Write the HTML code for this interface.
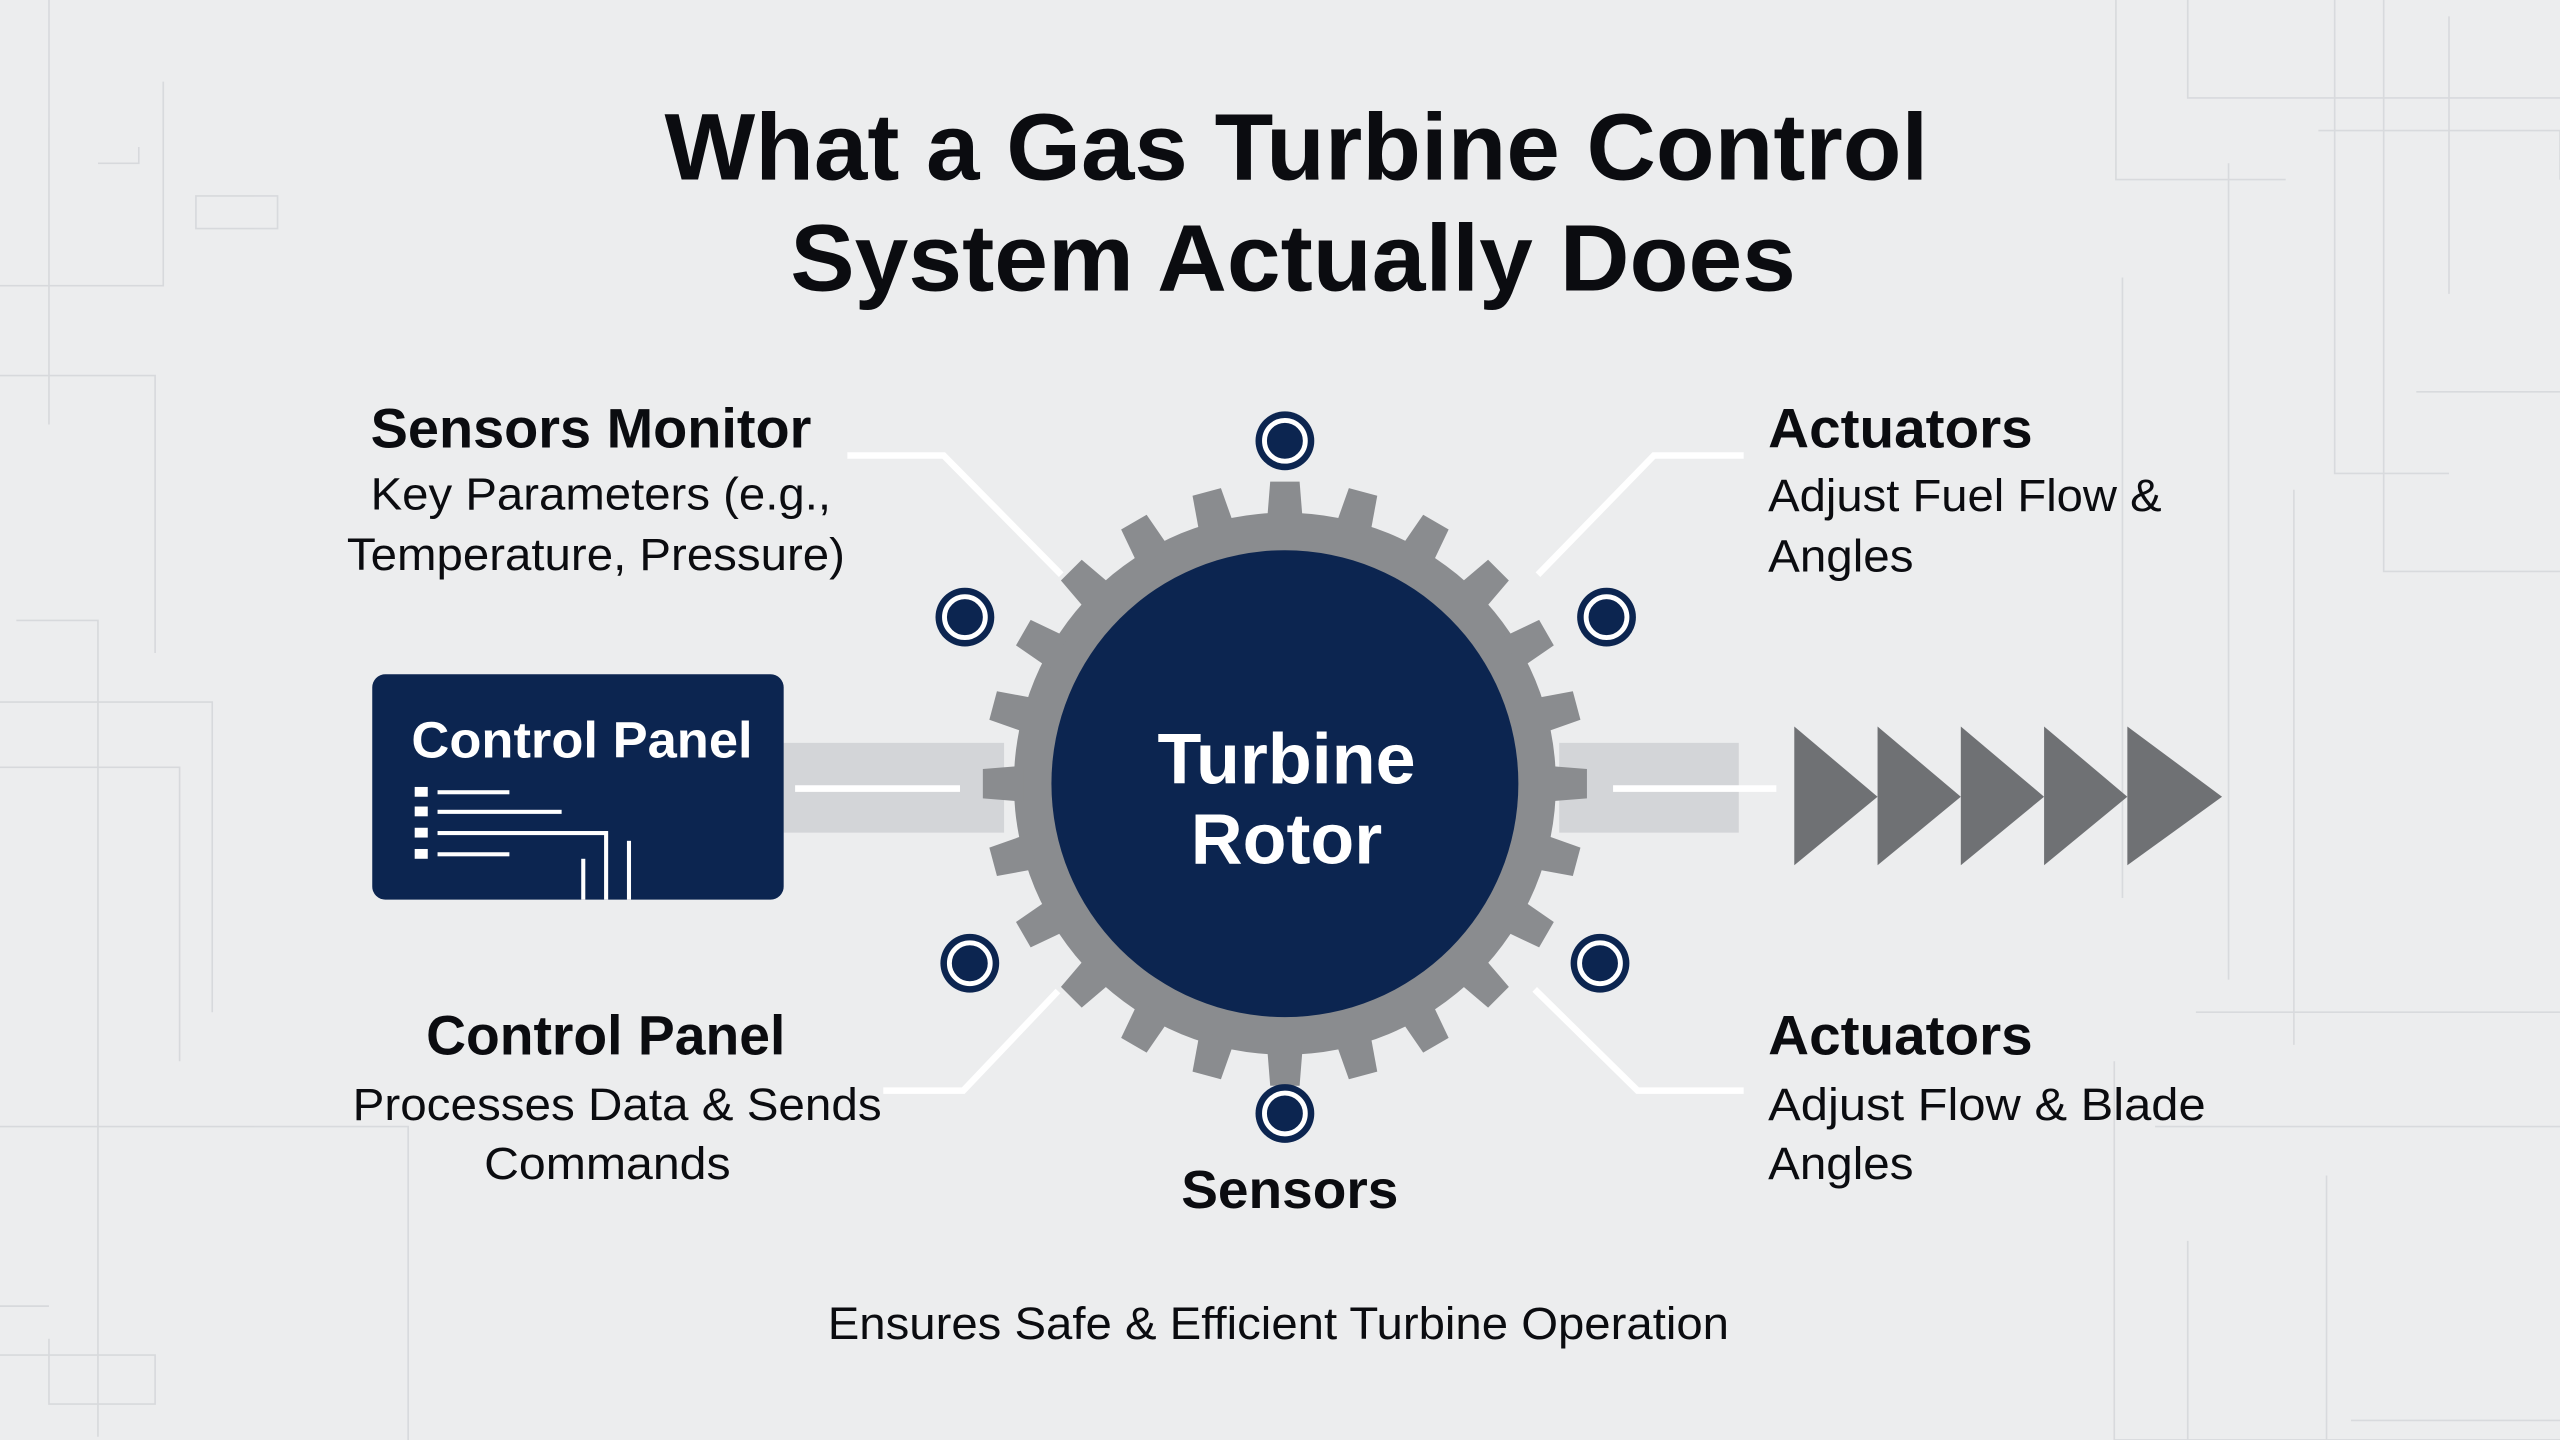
<!DOCTYPE html>
<html><head><meta charset="utf-8"><style>
html,body{margin:0;padding:0;width:2560px;height:1440px;overflow:hidden;background:#ecedee}
svg{display:block}
text{font-family:"Liberation Sans",Arial,sans-serif}
</style></head><body>
<svg width="2560" height="1440" viewBox="0 0 1568 882" xmlns="http://www.w3.org/2000/svg">
<rect width="1568" height="882" fill="#ecedee"/>
<g stroke="#d3d5d8" stroke-width="1" fill="none" opacity="0.8">
<path d="M0 175H100V50M30 0V260M0 230H95V400M0 430H130V620M0 470H110V650M10 380H60V880M0 690H250V882M120 120H170V140H120Z"/>
<path d="M0 800H30M0 830H95V860H30V820M60 100H85V90"/>
<path d="M1296 0V110H1400M1340 0V60H1568M1430 0V290H1500M1460 0V350H1568M1420 80H1568V110M1480 240H1568M1405 300V640M1300 170V550M1365 100V600M1295 650V882H1568M1345 620H1568M1320 690H1568M1340 760V882M1425 720V882M1440 870H1568M1500 10V180"/>
</g>
<!-- title -->
<text x="794" y="110" font-size="58" font-weight="bold" fill="#0b0c10" text-anchor="middle" textLength="774" lengthAdjust="spacingAndGlyphs">What a Gas Turbine Control</text>
<text x="792" y="178" font-size="58" font-weight="bold" fill="#0b0c10" text-anchor="middle" textLength="616" lengthAdjust="spacingAndGlyphs">System Actually Does</text>
<!-- shafts -->
<rect x="480" y="455" width="135" height="55" fill="#d3d5d8"/>
<rect x="955" y="455" width="110" height="55" fill="#d3d5d8"/>
<!-- gear -->
<g transform="translate(787,480)" fill="#8a8c8f">
<circle r="166"/>
<g id="t"><path d="M-11,-160 L-9,-185 L9,-185 L11,-160Z"/></g>
<use href="#t" transform="rotate(15)"/><use href="#t" transform="rotate(30)"/><use href="#t" transform="rotate(45)"/>
<use href="#t" transform="rotate(60)"/><use href="#t" transform="rotate(75)"/><use href="#t" transform="rotate(90)"/>
<use href="#t" transform="rotate(105)"/><use href="#t" transform="rotate(120)"/><use href="#t" transform="rotate(135)"/>
<use href="#t" transform="rotate(150)"/><use href="#t" transform="rotate(165)"/><use href="#t" transform="rotate(180)"/>
<use href="#t" transform="rotate(195)"/><use href="#t" transform="rotate(210)"/><use href="#t" transform="rotate(225)"/>
<use href="#t" transform="rotate(240)"/><use href="#t" transform="rotate(255)"/><use href="#t" transform="rotate(270)"/>
<use href="#t" transform="rotate(285)"/><use href="#t" transform="rotate(300)"/><use href="#t" transform="rotate(315)"/>
<use href="#t" transform="rotate(330)"/><use href="#t" transform="rotate(345)"/>
<circle r="143" fill="#0c2550"/>
</g>
<text x="788" y="480" font-size="44" font-weight="bold" fill="#fff" text-anchor="middle">Turbine</text>
<text x="788" y="529" font-size="44" font-weight="bold" fill="#fff" text-anchor="middle">Rotor</text>
<!-- white lines -->
<g stroke="#fff" stroke-width="4" fill="none">
<path d="M487 483H588M988 483H1088"/>
<path d="M519 279H578L650 352M1068 279H1013L942 352M541 668H590L648 607M1068 668H1003L940 606"/>
</g>
<!-- small circles -->
<g fill="#0c2550">
<g transform="translate(787,270)"><circle r="18"/><circle r="12.5" fill="none" stroke="#fff" stroke-width="3"/></g>
<g transform="translate(591,378)"><circle r="18"/><circle r="12.5" fill="none" stroke="#fff" stroke-width="3"/></g>
<g transform="translate(984,378)"><circle r="18"/><circle r="12.5" fill="none" stroke="#fff" stroke-width="3"/></g>
<g transform="translate(594,590)"><circle r="18"/><circle r="12.5" fill="none" stroke="#fff" stroke-width="3"/></g>
<g transform="translate(980,590)"><circle r="18"/><circle r="12.5" fill="none" stroke="#fff" stroke-width="3"/></g>
<g transform="translate(787,682)"><circle r="18"/><circle r="12.5" fill="none" stroke="#fff" stroke-width="3"/></g>
</g>
<!-- control panel box -->
<rect x="228" y="413" width="252" height="138" rx="8" fill="#0c2550"/>
<text x="252" y="464" font-size="31" font-weight="bold" fill="#fff" textLength="209" lengthAdjust="spacingAndGlyphs">Control Panel</text>
<g fill="#fff">
<rect x="254" y="482" width="8" height="6"/><rect x="254" y="494" width="8" height="6"/><rect x="254" y="507" width="8" height="6"/><rect x="254" y="520" width="8" height="6"/>
<rect x="268" y="484" width="44" height="2.5"/><rect x="268" y="496" width="76" height="2.5"/><rect x="268" y="509" width="104" height="2.5"/><rect x="268" y="522" width="44" height="2.5"/>
<rect x="370" y="509" width="2.5" height="42"/><rect x="356" y="526" width="2.5" height="25"/><rect x="384" y="515" width="2.5" height="36"/>
</g>
<!-- arrows -->
<g fill="#6f7174">
<path d="M1099 445L1150 488L1099 530Z"/><path d="M1150 445L1201 488L1150 530Z"/><path d="M1201 445L1252 488L1201 530Z"/><path d="M1252 445L1303 488L1252 530Z"/><path d="M1303 445L1361 488L1303 530Z"/>
</g>
<!-- labels -->
<g fill="#0b0c10">
<text x="362" y="274" font-size="34" font-weight="bold" text-anchor="middle" textLength="270" lengthAdjust="spacingAndGlyphs">Sensors Monitor</text>
<text x="368" y="312" font-size="28" text-anchor="middle" textLength="282" lengthAdjust="spacingAndGlyphs">Key Parameters (e.g.,</text>
<text x="365" y="349" font-size="28" text-anchor="middle" textLength="305" lengthAdjust="spacingAndGlyphs">Temperature, Pressure)</text>
<text x="1083" y="274" font-size="34" font-weight="bold" textLength="162" lengthAdjust="spacingAndGlyphs">Actuators</text>
<text x="1083" y="313" font-size="28" textLength="241" lengthAdjust="spacingAndGlyphs">Adjust Fuel Flow &amp;</text>
<text x="1083" y="350" font-size="28" textLength="89" lengthAdjust="spacingAndGlyphs">Angles</text>
<text x="371" y="646" font-size="34" font-weight="bold" text-anchor="middle" textLength="220" lengthAdjust="spacingAndGlyphs">Control Panel</text>
<text x="378" y="686" font-size="28" text-anchor="middle" textLength="324" lengthAdjust="spacingAndGlyphs">Processes Data &amp; Sends</text>
<text x="372" y="722" font-size="28" text-anchor="middle" textLength="151" lengthAdjust="spacingAndGlyphs">Commands</text>
<text x="1083" y="646" font-size="34" font-weight="bold" textLength="162" lengthAdjust="spacingAndGlyphs">Actuators</text>
<text x="1083" y="686" font-size="28" textLength="268" lengthAdjust="spacingAndGlyphs">Adjust Flow &amp; Blade</text>
<text x="1083" y="722" font-size="28" textLength="89" lengthAdjust="spacingAndGlyphs">Angles</text>
<text x="790" y="740" font-size="33" font-weight="bold" text-anchor="middle" textLength="133" lengthAdjust="spacingAndGlyphs">Sensors</text>
<text x="783" y="820" font-size="28" text-anchor="middle" textLength="552" lengthAdjust="spacingAndGlyphs">Ensures Safe &amp; Efficient Turbine Operation</text>
</g>
</svg>
</body></html>
